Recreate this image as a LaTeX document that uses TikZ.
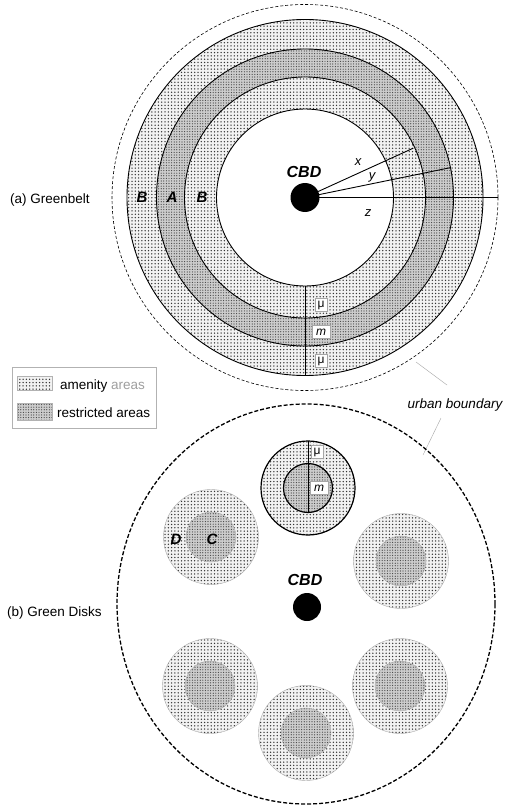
\documentclass[tikz,border=0pt]{standalone}
\usepackage{fontspec}
\setmainfont{Liberation Sans}
\usetikzlibrary{patterns,calc}
\pgfdeclarepatternformonly{amendots}{\pgfqpoint{-1pt}{-1pt}}{\pgfqpoint{4pt}{4pt}}{\pgfqpoint{3.3pt}{3.3pt}}%
{\pgfpathcircle{\pgfqpoint{0pt}{0pt}}{0.75pt}\pgfusepath{fill}}
\pgfdeclarepatternformonly{restdots}{\pgfqpoint{-1pt}{-1pt}}{\pgfqpoint{3pt}{3pt}}{\pgfqpoint{2.6pt}{2.6pt}}%
{\pgfpathcircle{\pgfqpoint{0pt}{0pt}}{0.6pt}\pgfusepath{fill}}
\begin{document}
\begin{tikzpicture}[x=1pt,y=-1pt,
  amen/.style={preaction={fill=gray!10}, pattern=amendots, pattern color=black!80},
  restr/.style={preaction={fill=gray!40}, pattern=restdots, pattern color=black!75},
  ring/.style={draw=black, line width=0.9pt},
  biglbl/.style={font=\fontsize{15}{15}\selectfont\bfseries\itshape, inner sep=0pt},
  cbdlbl/.style={font=\fontsize{16}{16}\selectfont\bfseries\itshape, inner sep=0pt},
  varlbl/.style={font=\fontsize{13}{13}\selectfont\itshape, inner sep=0pt},
  txt/.style={font=\fontsize{13.5}{13.5}\selectfont, inner sep=0pt},
  valbox/.style={draw=gray!70, fill=white, line width=0.4pt, inner sep=1.5pt, minimum height=13pt, minimum width=12pt, font=\fontsize{12}{12}\selectfont},
  dot/.style={circle, fill=black, inner sep=0pt, minimum size=29pt},
  thinline/.style={draw=gray!70, line width=0.4pt},
  diskline/.style={draw=gray!65, line width=0.4pt}
]
\fill[white] (0,0) rectangle (507,805);
\useasboundingbox (0,0) rectangle (507,805);

% ---------- (a) Greenbelt ----------
\coordinate (c1) at (305,197.5);
\path[amen] (c1) circle[radius=178pt];
\path[restr] (c1) circle[radius=148.5pt];
\path[amen] (c1) circle[radius=120.5pt];
\path[fill=white] (c1) circle[radius=88.5pt];
\foreach \r in {88.5,120.5,148.5,178} \draw[ring] (c1) circle[radius=\r pt];
\draw[dash pattern=on 3pt off 2pt, line width=0.6pt] (c1) circle[radius=193pt];

\node[dot] (cbdA) at (c1) {};
\coordinate (xend) at ($(c1)+(24.5:119pt)$);
\coordinate (yend) at ($(c1)+(11.6:148pt)$);
\coordinate (zend) at ($(c1)+(0:193pt)$);
\draw[line width=0.9pt] (cbdA.center) -- (xend);
\draw[line width=0.9pt] (cbdA.center) -- (yend);
\draw[line width=0.9pt] (cbdA.center) -- (zend);
\coordinate (vtop) at (305,286);
\coordinate (vbot) at (305,375.5);
\draw[line width=0.9pt] (vtop) -- (vbot);

\node[cbdlbl] (cbdAl) at (304,172) {CBD};
\node[biglbl] (b1) at (142,197) {B};
\node[biglbl] (a1) at (172,197) {A};
\node[biglbl] (b2) at (202,197) {B};
\node[varlbl] (xl) at (358,162) {x};
\node[varlbl] (yl) at (372,177) {y};
\node[varlbl] (zl) at (368,213) {z};
\node[valbox] (mu1) at (321,305) {μ};
\node[valbox, font=\fontsize{12}{12}\selectfont\itshape, minimum width=18pt] (m1) at (321,332) {m};
\node[valbox] (mu2) at (321,361) {μ};
\node[txt, anchor=west] (gb) at (10,200) {(a) Greenbelt};

% ---------- legend ----------
\draw[draw=gray!60, line width=0.5pt] (12,367) rectangle (156,428);
\path[amen, draw=gray!60, line width=0.4pt] (17,376) rectangle (52,390);
\path[restr, draw=gray!60, line width=0.4pt] (17,403) rectangle (52,420);
\node[txt, anchor=west] (lg1) at (60,386) {amenity \textcolor{gray!75}{areas}};
\node[txt, anchor=west] (lg2) at (57,413) {restricted areas};

% ---------- urban boundary ----------
\node[txt, font=\fontsize{13.5}{13.5}\selectfont\itshape] (ub) at (455,405) {urban boundary};
\coordinate (ubA1) at (447,385);
\coordinate (ubA2) at (416,362);
\coordinate (ubB1) at (441,418);
\coordinate (ubB2) at (423,455);
\draw[thinline] (ubA1) -- (ubA2);
\draw[thinline] (ubB1) -- (ubB2);

% ---------- (b) Green Disks ----------
\coordinate (c2) at (306,604);
\draw[dash pattern=on 4pt off 2pt, line width=1.3pt] (c2) ellipse[x radius=189pt, y radius=200pt];

\foreach \p in {(211,537),(401,561),(210,686),(306,733),(400,686)} {
  \path[amen] \p circle[radius=47.5pt];
  \draw[diskline] \p circle[radius=47.5pt];
  \path[restr] \p circle[radius=25pt];
  \draw[diskline] \p circle[radius=25pt];
}
\coordinate (td) at (308,488);
\path[amen] (td) circle[radius=47pt];
\path[restr] (td) circle[radius=24.5pt];
\draw[line width=1.2pt] (td) circle[radius=47pt];
\draw[line width=1.2pt] (td) circle[radius=24.5pt];
\coordinate (tdtop) at (308,441);
\coordinate (tdbot) at (308,512.5);
\draw[line width=0.9pt] (tdtop) -- (tdbot);
\node[valbox] (mu3) at (317,452) {μ};
\node[valbox, font=\fontsize{12}{12}\selectfont\itshape, minimum width=18pt] (m2) at (319,488) {m};

\node[dot, minimum size=28pt] (cbdB) at (307,607) {};
\node[cbdlbl] (cbdBl) at (305,580) {CBD};
\node[biglbl] (dl) at (176,539) {D};
\node[biglbl] (cl) at (212,539) {C};
\node[txt, anchor=west] (gd) at (7,613) {(b) Green Disks};
\end{tikzpicture}
\end{document}
